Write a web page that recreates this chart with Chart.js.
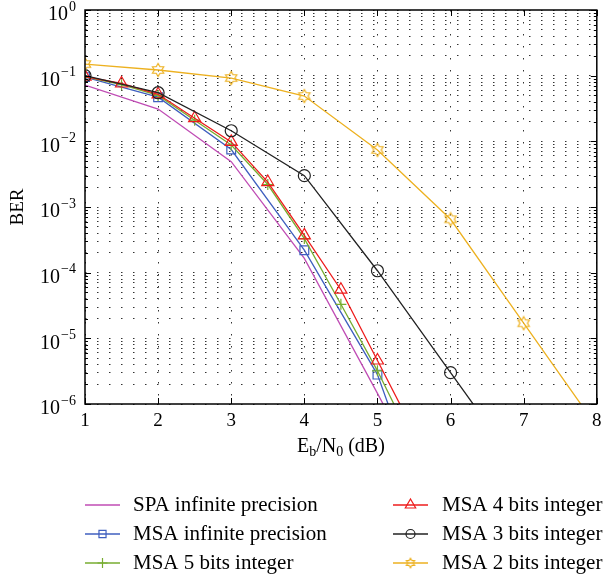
<!DOCTYPE html>
<html><head><meta charset="utf-8">
<script src="https://cdn.jsdelivr.net/npm/chart.js"></script>
<style>html,body{margin:0;padding:0;background:#fff;} canvas{display:block;}</style>
</head><body>
<canvas id="c" width="605" height="577"></canvas>
<script>
const FONT = '"Liberation Serif", "Times New Roman", serif';

// ---- data ----
const xTickValues = [1, 2, 3, 4, 5, 6, 7, 8];
const yDecades = [-6, -5, -4, -3, -2, -1, 0];
const xTitleParts = ['E', 'b', '/N', '0', ' (dB)'];
const yTitle = 'BER';

const seriesNames = ['SPA infinite precision', 'MSA infinite precision', 'MSA 5 bits integer',
                     'MSA 4 bits integer', 'MSA 3 bits integer', 'MSA 2 bits integer'];

const spaX = [1, 2, 3, 4, 5, 5.5];
const spaY = [0.072, 0.031, 0.0049, 1.65e-4, 1.45e-6, 1.3e-7];

const msaInfX = [1, 2, 3, 4, 5, 5.5];
const msaInfY = [0.095, 0.047, 0.0075, 2.2e-4, 2.8e-6, 8e-8];

const msa5X = [1, 1.5, 2, 2.5, 3, 3.5, 4, 4.5, 5, 5.5];
const msa5Y = [0.096, 0.073, 0.05, 0.021, 0.0088, 0.0022, 3.3e-4, 3.3e-5, 3.2e-6, 2.4e-7];

const msa4X = [1, 1.5, 2, 2.5, 3, 3.5, 4, 4.5, 5, 5.5];
const msa4Y = [0.097, 0.076, 0.052, 0.0225, 0.0098, 0.0024, 3.7e-4, 5.5e-5, 4.6e-6, 3.8e-7];

const msa3X = [1, 2, 3, 4, 5, 6, 7];
const msa3Y = [0.1, 0.055, 0.0145, 0.003, 1.07e-4, 3.0e-6, 8.5e-8];

const msa2X = [1, 2, 3, 4, 5, 6, 7, 8];
const msa2Y = [0.15, 0.122, 0.092, 0.049, 0.0074, 6.5e-4, 1.7e-5, 4.5e-7];

// ---- styles ----
const colors = ['#C04DB5', '#3F5FBF', '#77AC30', '#EE1C1C', '#222222', '#EDB120'];

function makeHexagram(size, r, color, lw) {
  const c = document.createElement('canvas');
  c.width = size; c.height = size;
  const g = c.getContext('2d');
  g.strokeStyle = color; g.lineWidth = lw;
  const cx = size / 2, cy = size / 2, ri = r / Math.sqrt(3);
  g.beginPath();
  for (let k = 0; k < 12; k++) {
    const a = -Math.PI / 2 + k * Math.PI / 6;
    const rr = k % 2 === 0 ? r : ri;
    const px = cx + rr * Math.cos(a), py = cy + rr * Math.sin(a);
    if (k === 0) g.moveTo(px, py); else g.lineTo(px, py);
  }
  g.closePath(); g.stroke();
  return c;
}
const hexBig = makeHexagram(16, 6.5, colors[5], 1.2);
const hexSmall = makeHexagram(12, 4.8, colors[5], 1.1);

const markerStyles = [false, 'rect', 'cross', 'triangle', 'circle', hexBig];
const markerRadius = [0, 6.2, 5.5, 7, 6, 7];
const legendStyles = [false, 'rect', 'cross', 'triangle', 'circle', hexSmall];
const legendRadius = [0, 5, 5, 6, 4.5, 5];

const xs = [spaX, msaInfX, msa5X, msa4X, msa3X, msa2X];
const ys = [spaY, msaInfY, msa5Y, msa4Y, msa3Y, msa2Y];

const datasets = seriesNames.map((name, i) => ({
  label: name,
  data: xs[i].map((x, j) => ({ x: x, y: ys[i][j] })),
  borderColor: colors[i],
  backgroundColor: 'rgba(0,0,0,0)',
  borderWidth: 1.3,
  pointStyle: markerStyles[i] || 'circle',
  pointRadius: ctx => (markerStyles[i] && ctx.raw && ctx.raw.y >= 1e-6) ? markerRadius[i] : 0,
  pointBorderWidth: 1.2,
  pointBorderColor: colors[i],
  pointBackgroundColor: 'rgba(0,0,0,0)',
  tension: 0,
  order: 6 - i
}));

const yGridValues = [];
yDecades.forEach(d => {
  if (d === 0) { yGridValues.push(1); return; }
  for (let m = 1; m <= 9; m++) yGridValues.push(Number((m * Math.pow(10, d)).toPrecision(3)));
});

function drawMarker(ctx, style, x, y, r) {
  if (!style) return;
  if (typeof style === 'object') {
    ctx.drawImage(style, x - style.width / 2, y - style.height / 2);
    return;
  }
  ctx.beginPath();
  if (style === 'circle') { ctx.arc(x, y, r, 0, Math.PI * 2); }
  else if (style === 'rect') { const s = r * Math.SQRT1_2; ctx.rect(x - s, y - s, 2 * s, 2 * s); }
  else if (style === 'triangle') {
    for (let k = 0; k < 3; k++) {
      const a = k * 2 * Math.PI / 3;
      const px = x + Math.sin(a) * r, py = y - Math.cos(a) * r;
      if (k === 0) ctx.moveTo(px, py); else ctx.lineTo(px, py);
    }
    ctx.closePath();
  } else if (style === 'cross') {
    ctx.moveTo(x - r, y); ctx.lineTo(x + r, y); ctx.moveTo(x, y - r); ctx.lineTo(x, y + r);
  }
  ctx.stroke();
}

const decorPlugin = {
  id: 'decor',
  afterDraw(chart) {
    const ctx = chart.ctx;
    const { left, right, top, bottom } = chart.chartArea;
    const xS = chart.scales.x, yS = chart.scales.y;
    ctx.save();
    // frame
    ctx.strokeStyle = '#000'; ctx.lineWidth = 1.5;
    ctx.strokeRect(left, top, right - left, bottom - top);
    // ticks (inward)
    ctx.lineWidth = 1;
    ctx.beginPath();
    yGridValues.forEach(v => {
      const py = Math.round(yS.getPixelForValue(v)) + 0.5;
      const major = Math.abs(Math.log10(v) - Math.round(Math.log10(v))) < 1e-9;
      const len = major ? 6 : 3;
      ctx.moveTo(left, py); ctx.lineTo(left + len, py);
      ctx.moveTo(right, py); ctx.lineTo(right - len, py);
    });
    xTickValues.forEach(v => {
      const px = Math.round(xS.getPixelForValue(v)) + 0.5;
      ctx.moveTo(px, bottom); ctx.lineTo(px, bottom - 6);
      ctx.moveTo(px, top); ctx.lineTo(px, top + 6);
    });
    ctx.stroke();

    // y tick labels 10^n
    ctx.fillStyle = '#000';
    ctx.textBaseline = 'middle';
    yDecades.forEach(d => {
      const py = yS.getPixelForValue(Math.pow(10, d));
      const sup = d === 0 ? '0' : '\u2212' + Math.abs(d);
      ctx.font = '14px ' + FONT;
      const wSup = ctx.measureText(sup).width;
      ctx.font = '20px ' + FONT;
      const wBase = ctx.measureText('10').width;
      const xEnd = left - 9;
      ctx.textAlign = 'left';
      ctx.fillText('10', xEnd - wSup - wBase - 1, py + 5);
      ctx.font = '14px ' + FONT;
      ctx.fillText(sup, xEnd - wSup, py - 3);
    });

    // y title
    ctx.save();
    ctx.translate(18, (top + bottom) / 2);
    ctx.rotate(-Math.PI / 2);
    ctx.textAlign = 'center';
    ctx.font = '19px ' + FONT;
    ctx.fillText(yTitle, 0, 0);
    ctx.restore();

    // x title with subscripts
    const big = '20px ' + FONT, small = '14px ' + FONT;
    const fonts = [big, small, big, small, big];
    const dy = [0, 5, 0, 5, 0];
    let total = 0;
    const widths = xTitleParts.map((t, k) => { ctx.font = fonts[k]; const w = ctx.measureText(t).width; total += w; return w; });
    let cx = (left + right) / 2 - total / 2;
    const ty = 447;
    ctx.textAlign = 'left';
    xTitleParts.forEach((t, k) => {
      ctx.font = fonts[k];
      ctx.fillText(t, cx, ty + dy[k]);
      cx += widths[k];
    });

    // legend
    const rowsY = [505, 534, 563];
    const cols = [{ x0: 85, x1: 120, tx: 133 }, { x0: 393, x1: 428, tx: 442 }];
    chart.data.datasets.forEach((ds, i) => {
      const col = cols[Math.floor(i / 3)];
      const y = rowsY[i % 3];
      ctx.strokeStyle = ds.borderColor;
      ctx.lineWidth = 1.3;
      ctx.beginPath(); ctx.moveTo(col.x0, y); ctx.lineTo(col.x1, y); ctx.stroke();
      ctx.lineWidth = 1.2;
      drawMarker(ctx, legendStyles[i], (col.x0 + col.x1) / 2, y, legendRadius[i]);
      ctx.fillStyle = '#000';
      ctx.font = '21px ' + FONT;
      ctx.textAlign = 'left';
      ctx.fillText(ds.label, col.tx, y);
    });
    ctx.restore();
  }
};

new Chart(document.getElementById('c'), {
  type: 'line',
  data: { datasets: datasets },
  options: {
    responsive: false,
    animation: false,
    devicePixelRatio: 1,
    layout: { padding: { left: 0, right: 7, top: 10, bottom: 133 } },
    plugins: { legend: { display: false }, tooltip: { enabled: false } },
    scales: {
      x: {
        type: 'linear', min: 1, max: 8,
        afterBuildTicks: s => { s.ticks = xTickValues.map(v => ({ value: v })); },
        afterFit: s => { s.height = 40; s.paddingLeft = 0; s.paddingRight = 0; },
        ticks: { font: { family: FONT, size: 19 }, color: '#000', padding: 6, maxRotation: 0, autoSkip: false },
        grid: { color: '#333', lineWidth: 1, drawTicks: false },
        border: { display: false, dash: [1.5, 10.5] }
      },
      y: {
        type: 'logarithmic', min: 1e-6, max: 1,
        afterBuildTicks: s => { s.ticks = yGridValues.map(v => ({ value: v })); },
        afterFit: s => { s.width = 85; s.paddingTop = 0; s.paddingBottom = 0; },
        ticks: { display: false },
        grid: { color: '#333', lineWidth: 1, drawTicks: false },
        border: { display: false, dash: [1.5, 10.5] }
      }
    }
  },
  plugins: [decorPlugin]
});
</script>
</body></html>
